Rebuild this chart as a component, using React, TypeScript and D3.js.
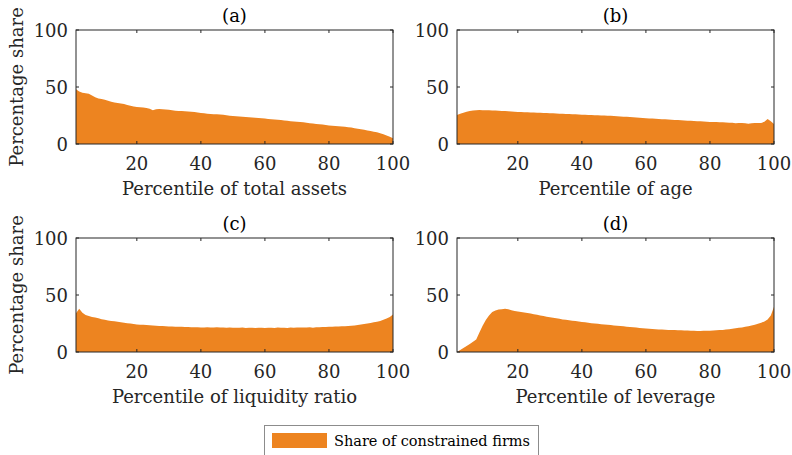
import React from "react";
import * as d3 from "d3";

// percentiles 1..100
const percentiles = d3.range(1, 101);

const totalAssets = [
  48, 46, 45, 44.5, 44, 42.5, 41, 40, 39.5, 38.8,
  38, 37, 36.5, 36, 35.5, 35, 34.2, 33.5, 33, 32.5,
  32.2, 32, 31.5, 31, 29.5, 30.5, 30.8, 30.5, 30.2, 30,
  29.5, 29.2, 29, 29, 28.8, 28.5, 28.2, 28, 27.6, 27.2,
  27, 26.6, 26.3, 26, 26, 25.8, 25.6, 25.2, 24.8, 24.5,
  24.3, 24.1, 23.8, 23.6, 23.4, 23.2, 23, 22.8, 22.6, 22.3,
  22, 21.8, 21.5, 21.2, 21, 20.6, 20.3, 20, 19.8, 19.5,
  19.2, 19, 18.6, 18.3, 18, 17.6, 17.3, 17, 16.6, 16.3,
  16, 15.8, 15.6, 15.4, 15.2, 14.8, 14.4, 13.9, 13.4, 12.9,
  12.4, 11.9, 11.4, 10.8, 10.2, 9.4, 8.5, 7.5, 6.3, 5,
];

const age = [
  25.5, 26.5, 27.5, 28.3, 28.9, 29.4, 29.7, 29.8, 29.7, 29.6,
  29.5, 29.4, 29.3, 29.2, 29, 28.9, 28.7, 28.5, 28.3, 28.1,
  28, 27.9, 27.8, 27.7, 27.6, 27.5, 27.4, 27.3, 27.1, 27,
  26.9, 26.7, 26.6, 26.5, 26.4, 26.3, 26.1, 26, 25.9, 25.7,
  25.6, 25.5, 25.4, 25.3, 25.2, 25.1, 25, 24.8, 24.7, 24.6,
  24.4, 24.2, 24, 23.8, 23.6, 23.4, 23.2, 23, 22.8, 22.6,
  22.4, 22.3, 22.1, 22, 21.8, 21.7, 21.5, 21.3, 21.1, 21,
  20.8, 20.6, 20.5, 20.3, 20.2, 20, 19.9, 19.7, 19.5, 19.4,
  19.3, 19.2, 19.1, 19, 18.9, 18.7, 18.6, 18.1, 18.4, 18.5,
  18.1, 17.8, 18.3, 18.4, 18.4, 18.5, 19.5, 22, 20, 17.5,
];

const liquidity = [
  34, 38, 34.5, 32.5, 31.5, 30.8, 30.2, 29.5, 28.8, 28.2,
  27.7, 27.3, 26.9, 26.5, 26.1, 25.7, 25.3, 24.9, 24.5, 24.2,
  24, 23.8, 23.6, 23.4, 23.2, 23, 22.9, 22.7, 22.6, 22.4,
  22.3, 22.2, 22.2, 22.1, 22, 21.9, 21.8, 21.8, 21.7, 21.6,
  21.6, 21.8, 21.6, 21.5, 21.7, 21.4, 21.5, 21.3, 21.4, 21.2,
  21.3, 21.2, 21.4, 21.1, 21.3, 21.2, 21.1, 21.3, 21.2, 21.1,
  21.2, 21.3, 21.1, 21.4, 21.2, 21.3, 21.0, 21.4, 21.3, 21.5,
  21.4, 21.6, 21.5, 21.7, 21.3, 21.8, 21.7, 21.9, 22, 22.1,
  22.2, 22.3, 22.4, 22.5, 22.6, 22.8, 23, 23.3, 23.7, 24.1,
  24.5, 25, 25.5, 26, 26.6, 27.3, 28.2, 29.3, 30.8, 33,
];

const leverage = [
  0, 1.8, 3.5, 5.2, 7, 9, 11, 17, 23, 28,
  32, 35, 36.5, 37.3, 37.6, 38, 37.5, 36.6, 36, 35.5,
  35, 34.6, 34.2, 33.7, 33.2, 32.6, 32.1, 31.6, 31, 30.5,
  30, 29.6, 29.1, 28.6, 28.3, 27.9, 27.5, 27.1, 26.8, 26.4,
  26, 25.7, 25.3, 25, 24.7, 24.4, 24.2, 23.9, 23.6, 23.3,
  23, 22.7, 22.5, 22.2, 21.9, 21.7, 21.4, 21.1, 20.9, 20.7,
  20.4, 20.2, 20, 19.8, 19.7, 19.5, 19.4, 19.3, 19.2, 19.1,
  19, 18.9, 18.8, 18.7, 18.6, 18.5, 18.5, 18.6, 18.6, 18.7,
  18.8, 19, 19.2, 19.4, 19.7, 20, 20.4, 20.8, 21.2, 21.6,
  22.1, 22.6, 23.2, 23.9, 24.7, 25.6, 26.8, 28.5, 32, 39.7,
];

const xTicks = [20, 40, 60, 80, 100];
const yTicks = [0, 50, 100];
const legendLabel = "Share of constrained firms";

const panels = [
  { title: "(a)", xlabel: "Percentile of total assets", values: totalAssets, col: 0, row: 0 },
  { title: "(b)", xlabel: "Percentile of age", values: age, col: 1, row: 0 },
  { title: "(c)", xlabel: "Percentile of liquidity ratio", values: liquidity, col: 0, row: 1 },
  { title: "(d)", xlabel: "Percentile of leverage", values: leverage, col: 1, row: 1 },
];

const W = 792, H = 455;
const FILL = "#ED8420";
const AX = "#262626";
const FONT = "'DejaVu Serif', serif";
const FS = 18;
const colLeft = [76, 457];
const rowTop = [30, 238];
const pw = 317, ph = 114;

function Panel({ p }) {
  const left = colLeft[p.col];
  const top = rowTop[p.row];
  const x = d3.scaleLinear().domain([1, 100]).range([0, pw]);
  const y = d3.scaleLinear().domain([0, 100]).range([ph, 0]);
  const area = d3.area<number>()
    .x((_, i) => x(percentiles[i]))
    .y0(y(0))
    .y1((d) => y(d));
  const tl = 3;
  return (
    <g transform={`translate(${left},${top})`}>
      <path d={area(p.values) || ""} fill={FILL} />
      <rect x={0} y={0} width={pw} height={ph} fill="none" stroke={AX} strokeWidth={1} />
      {xTicks.map((t) => (
        <g key={"x" + t}>
          <line x1={x(t)} x2={x(t)} y1={ph} y2={ph - tl} stroke={AX} />
          <line x1={x(t)} x2={x(t)} y1={0} y2={tl} stroke={AX} />
          <text x={x(t)} y={ph + 26} textAnchor="middle" fontSize={FS} fill={AX} fontFamily={FONT}>{t}</text>
        </g>
      ))}
      {yTicks.map((t) => (
        <g key={"y" + t}>
          <line x1={0} x2={tl} y1={y(t)} y2={y(t)} stroke={AX} />
          <line x1={pw} x2={pw - tl} y1={y(t)} y2={y(t)} stroke={AX} />
          <text x={-8} y={y(t) + 6.5} textAnchor="end" fontSize={FS} fill={AX} fontFamily={FONT}>{t}</text>
        </g>
      ))}
      <text x={pw / 2} y={-8} textAnchor="middle" fontSize={FS} fill="#000" fontFamily={FONT}>{p.title}</text>
      <text x={pw / 2} y={ph + 51} textAnchor="middle" fontSize={FS} fill={AX} fontFamily={FONT}>{p.xlabel}</text>
      {p.col === 0 && (
        <text transform={`translate(${-53},${ph / 2}) rotate(-90)`} textAnchor="middle" fontSize={FS} fill={AX} fontFamily={FONT}>
          Percentage share
        </text>
      )}
    </g>
  );
}

export default function App() {
  return (
    <svg width={W} height={H} style={{ position: "absolute", left: 0, top: 0, background: "#fff" }}>
      <rect width={W} height={H} fill="#fff" />
      {panels.map((p) => <Panel key={p.title} p={p} />)}
      <g>
        <rect x={264.5} y={425.5} width={274} height={40} fill="#fff" stroke="#8c8c8c" strokeWidth={1} />
        <rect x={272} y={433} width={55} height={15} fill={FILL} />
        <text x={334} y={446} fontSize={14.5} fill="#000" fontFamily={FONT}>{legendLabel}</text>
      </g>
    </svg>
  );
}
